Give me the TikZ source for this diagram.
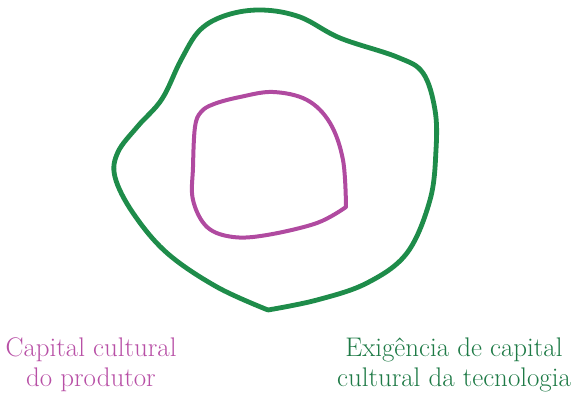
\documentclass[tikz,border=0pt]{standalone}
\definecolor{outergreen}{RGB}{30,140,74}
\definecolor{innermag}{RGB}{176,74,160}
\definecolor{textgreen}{RGB}{30,122,70}
\definecolor{textmag}{RGB}{184,80,166}
\begin{document}
\begin{tikzpicture}[x=0.75pt,y=-0.75pt,
  blob/.style={line width=3.6pt,line cap=round,line join=round},
  lbl/.style={align=center,anchor=base,inner sep=0pt,font=\fontsize{20.2}{22.5}\selectfont}]
\useasboundingbox (0,0) rectangle (572,395);
\draw[blob,outergreen] plot[smooth,tension=0.6] coordinates {
 (268,310) (217,287) (167,253) (133,213) (115,177) (118,152) (138,126)
 (162,99) (181,60) (200,30) (227,15) (262,10) (300,17) (340,38) (397,57)
 (423,73) (435,110) (436,150) (430,200) (407,253) (367,283) (317,300) (268,310)};
\draw[blob,innermag,line width=3pt] plot[smooth,tension=0.6] coordinates {
 (346,207) (317,223) (267,235) (233,237) (207,227) (193,200) (193,167)
 (195,127) (201,112) (214,104) (240,97) (273,92) (307,100) (330,123) (343,160) (346,207)};
\node[lbl,textmag] (producer) at (91,387) {Capital cultural\\do produtor};
\node[lbl,textgreen] (tech) at (454,387) {Exigência de capital\\cultural da tecnologia};
\end{tikzpicture}
\end{document}
